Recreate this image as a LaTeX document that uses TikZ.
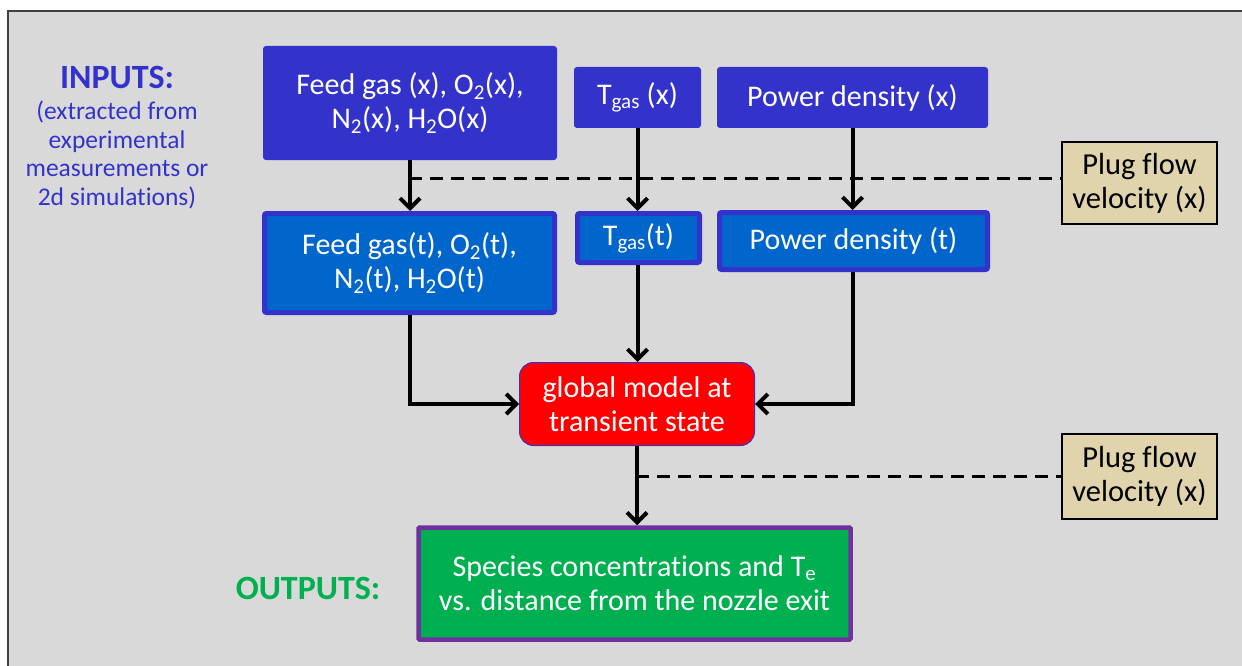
\documentclass[tikz,border=0pt]{standalone}
\usepackage{fontspec}
\setmainfont[Ligatures={NoCommon,NoContextual,NoRequired},Contextuals=NoAlternate]{Carlito}
\usetikzlibrary{arrows.meta}
\definecolor{bgc}{HTML}{D9D9D9}
\definecolor{dblue}{HTML}{3333CC}
\definecolor{mblue}{HTML}{0066CC}
\definecolor{gfill}{HTML}{00B050}
\definecolor{purp}{HTML}{7030A0}
\definecolor{tan}{HTML}{E0D4AC}
\tikzset{
  txt/.style={font=\fontsize{30}{34}\selectfont, text=white, align=center},
  inbox/.style={txt, fill=dblue, rounded corners=3pt, inner sep=0pt},
  tbox/.style={txt, fill=mblue, draw=dblue, line width=5pt, rounded corners=2pt, inner sep=0pt},
  redbox/.style={txt, fill=red, draw=dblue, line width=1pt, rounded corners=14pt, inner sep=0pt},
  outbox/.style={txt, fill=gfill, draw=purp, line width=4.5pt, rounded corners=1pt, inner sep=0pt},
  plugbox/.style={font=\fontsize{30.5}{34}\selectfont, text=black, align=center, fill=tan, draw=black, line width=2.5pt, inner sep=0pt},
  arr/.style={line width=4pt, -{Straight Barb[length=10pt,width=20pt,line width=4pt]}},
  dline/.style={line width=3pt, dash pattern=on 13pt off 8pt},
}
\begin{document}
\begin{tikzpicture}[x=1pt,y=-1pt]
\useasboundingbox (0,0) rectangle (1242,666);
\fill[white] (0,0) rectangle (1242,666);
\fill[bgc] (8,11) rectangle (1242,666);
\draw[black!75, line width=1.8pt] (1250,11) -- (8,11) -- (8,674);
% labels
\node[text=dblue, font=\fontsize{34}{38}\selectfont\bfseries] (inp) at (117,77) {INPUTS:};
\node[text=dblue, font=\fontsize{25.5}{28.7}\selectfont, align=center] (inpsub) at (117,155) {(extracted from\\experimental\\measurements or\\2d simulations)};
\node[text=gfill, font=\fontsize{34}{38}\selectfont\bfseries] (outp) at (308,588) {OUTPUTS:};
% input boxes
\node[inbox, minimum width=294pt, minimum height=114pt] (A) at (410,103) {Feed gas (x), O\textsubscript{2}(x),\\N\textsubscript{2}(x), H\textsubscript{2}O(x)};
\node[inbox, minimum width=127pt, minimum height=61pt] (B) at (637.5,97.5) {T\textsubscript{gas} (x)};
\node[inbox, minimum width=271pt, minimum height=61pt] (C) at (852.5,97.5) {Power density (x)};
% transient boxes
\node[tbox, minimum width=290pt, minimum height=99pt] (D) at (409.5,263) {Feed gas(t), O\textsubscript{2}(t),\\N\textsubscript{2}(t), H\textsubscript{2}O(t)};
\node[tbox, minimum width=122pt, minimum height=49pt] (E) at (638.5,238) {T\textsubscript{gas}(t)};
\node[tbox, minimum width=268pt, minimum height=57pt] (F) at (853.5,241) {Power density (t)};
% model
\node[redbox, minimum width=235pt, minimum height=83pt] (M) at (637,404) {global model at\\transient state};
% output
\node[outbox, minimum width=432pt, minimum height=112pt] (G) at (634.5,583.5) {Species concentrations and T\textsubscript{e}\\vs. distance from the nozzle exit};
% plug flow
\node[plugbox, minimum width=155pt, minimum height=82pt] (P1) at (1139.5,183) {Plug flow\\velocity (x)};
\node[plugbox, minimum width=155pt, minimum height=85pt] (P2) at (1139.5,476.5) {Plug flow\\velocity (x)};
% dashed lines
\coordinate (d1) at (409,178);
\coordinate (d2) at (636,476);
\draw[dline] (d1) -- (d1 -| P1.west);
\draw[dline] (d2) -- (d2 -| P2.west);
% arrows
\draw[arr] (A.south) -- (A.south |- D.north);
\draw[arr] (B.south) -- (B.south |- E.north);
\draw[arr] (C.south) -- (C.south |- F.north);
\draw[arr] (D.south) |- (M.west);
\draw[arr] (C.south |- F.south) |- (M.east);
\draw[arr] (B.south |- E.south) -- (B.south |- M.north);
\draw[arr] (M.south) -- (M.south |- G.north);
\end{tikzpicture}
\end{document}
